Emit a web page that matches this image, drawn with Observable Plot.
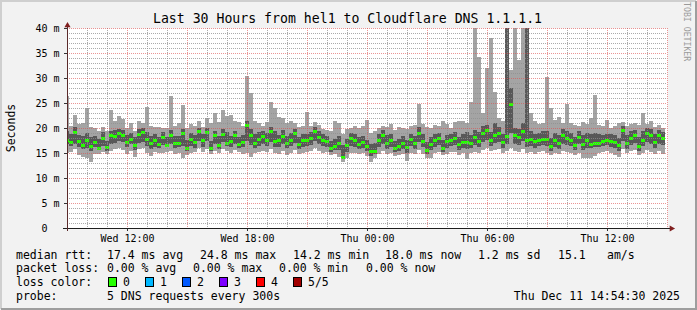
<!DOCTYPE html>
<html><head><meta charset="utf-8">
<script src="https://cdn.jsdelivr.net/npm/d3@7"></script>
<script src="https://cdn.jsdelivr.net/npm/@observablehq/plot@0.6"></script>
<style>
html,body{margin:0;padding:0;background:#f2f2f2;}
svg{display:block}
</style></head><body><div id="chart"></div>
<script>
// ---- data (ms), one column per 12-minute step ----
const minPing = [
15.0,15.3,15.8,14.6,14.2,14.0,13.2,14.8,14.9,15.2,14.8,15.5,15.9,16.0,15.6,14.8,15.4,14.3,15.8,16.0,15.0,14.5,15.2,15.0,15.1,
15.2,15.5,14.8,15.0,14.0,14.6,15.0,15.2,16.0,15.3,15.8,14.8,15.5,15.0,15.8,15.4,15.0,15.6,15.2,14.8,15.0,14.2,15.0,15.3,15.5,
15.2,15.8,15.0,14.8,15.4,14.6,15.1,15.6,14.8,15.0,15.2,15.4,16.0,15.5,15.0,15.2,14.6,14.8,14.2,13.3,14.0,15.0,15.0,14.8,15.0,
14.5,13.3,14.0,14.8,15.4,14.8,15.0,14.4,14.6,14.9,13.5,15.0,14.8,15.6,14.8,14.0,14.0,15.0,15.3,14.6,14.8,15.2,15.2,14.6,15.0,
13.8,15.0,15.2,15.0,15.6,16.0,15.4,15.6,15.8,15.0,15.4,16.0,15.4,15.2,15.8,15.0,15.2,14.9,15.2,15.4,15.0,14.6,15.0,14.8,15.4,
15.2,15.0,14.6,15.0,14.0,14.0,14.0,14.5,15.0,15.2,15.4,15.0,14.6,14.2,15.8,15.0,15.4,15.6,14.6,15.0,15.6,15.2,14.8,15.4,14.8];
const ping2 = [
16.8,16.4,16.9,16.2,15.8,16.0,15.5,16.3,15.6,16.5,15.5,16.8,17.0,17.5,17.2,16.2,16.8,15.7,17.1,17.3,16.5,15.8,16.2,16.0,16.6,
16.3,16.8,16.0,16.2,16.5,15.4,16.5,16.1,17.4,16.3,17.5,15.5,16.8,15.9,17.2,16.4,16.2,16.8,16.0,16.2,17.5,16.6,16.0,16.5,16.8,
16.4,17.2,16.2,16.2,16.8,16.0,16.5,17.0,15.8,16.3,16.4,16.6,17.4,16.8,16.4,16.3,15.3,15.6,15.6,13.9,15.2,16.4,16.2,15.8,16.0,
15.4,14.4,14.8,16.2,16.8,15.9,16.3,15.2,15.4,15.9,15.0,16.4,15.9,17.2,16.2,14.8,15.6,16.3,16.6,15.2,16.0,16.4,16.6,15.6,16.0,
15.8,16.0,16.6,16.2,17.2,17.6,16.4,17.0,17.3,16.0,16.8,19.0,16.8,16.6,17.4,16.2,16.4,16.0,16.4,16.6,16.4,15.4,16.3,15.9,16.9,
16.6,16.4,15.6,16.8,15.6,16.0,16.0,16.2,16.3,16.4,16.6,16.3,16.0,15.4,17.4,15.8,16.6,17.0,15.4,16.4,17.2,16.8,16.0,16.8,16.6];
const median = [
17.6,17.2,19.2,17.4,16.6,17.5,16.4,17.2,16.0,18.0,16.1,18.6,18.3,18.9,18.5,17.2,17.8,16.6,18.8,19.1,17.8,16.9,17.5,16.7,18.2,
16.6,18.6,16.9,17.0,18.9,16.0,17.8,17.2,19.3,17.6,19.2,16.0,18.6,16.5,18.8,17.0,17.3,18.6,16.8,17.2,20.6,18.5,17.0,17.8,18.3,
17.6,19.3,17.3,17.5,18.3,17.0,17.6,18.9,16.8,17.5,17.6,17.9,19.4,18.2,17.5,17.4,16.0,16.4,17.0,14.2,16.6,18.0,17.6,16.8,17.2,
16.4,15.3,15.4,17.6,18.6,17.0,17.6,16.0,16.4,17.0,16.2,17.7,17.0,19.0,17.4,15.6,16.8,17.5,17.9,16.0,17.3,17.6,18.0,16.7,17.2,
17.2,17.0,18.2,17.3,19.0,19.6,17.6,18.6,19.0,17.2,18.4,24.8,18.5,18.2,19.3,17.5,17.8,17.3,17.5,17.8,17.8,16.3,17.6,17.0,18.6,
18.0,17.6,16.6,18.2,16.8,17.5,16.8,17.0,17.0,17.3,17.6,17.3,17.2,16.6,19.6,17.0,18.0,18.5,16.4,17.6,19.0,18.6,17.2,18.5,18.0];
const ping4 = [
19.5,18.8,20.2,18.6,18.4,19.0,18.2,18.5,17.8,19.2,17.5,19.5,19.6,19.8,19.6,18.7,19.1,18.2,19.8,20.0,19.3,18.5,18.8,18.3,19.2,
18.2,19.6,18.4,18.5,19.8,17.6,19.0,18.6,20.0,18.8,20.1,17.5,19.4,18.5,19.8,19.2,18.5,19.5,18.3,18.7,21.5,19.8,18.8,19.2,19.4,
19.0,20.2,19.5,18.6,19.6,18.5,19.0,19.8,18.2,18.8,18.9,19.2,20.2,19.4,18.8,18.5,17.4,17.8,18.4,16.6,17.8,19.0,18.8,18.2,18.5,
17.6,16.8,17.0,18.8,19.6,18.6,18.8,17.5,17.8,18.4,17.6,18.9,18.4,20.2,18.8,17.2,18.2,18.9,19.0,17.6,18.6,18.9,19.3,18.2,18.8,
19.2,18.6,19.6,19.2,20.4,20.6,19.2,21.0,20.2,18.8,40.0,28.0,20.0,19.8,21.0,40.0,19.5,18.8,19.0,19.4,19.5,18.0,19.0,18.6,19.8,
19.4,19.0,18.2,19.4,18.6,19.0,18.8,19.0,18.8,18.6,18.9,18.8,18.6,18.0,20.4,18.6,19.4,19.6,18.2,19.5,20.0,19.8,18.8,19.6,19.2];
const maxPing = [
26.4,20.5,22.6,20.8,21.0,24.0,20.3,20.0,19.5,20.2,19.4,23.6,21.5,22.5,21.8,20.0,21.0,19.5,21.5,21.0,24.2,20.5,20.2,20.2,20.0,
20.0,26.4,20.5,21.0,24.6,20.0,20.8,20.5,21.4,20.3,22.0,21.0,23.0,21.2,23.6,22.4,22.6,21.5,21.3,20.5,30.4,27.0,21.5,21.0,20.5,
21.3,25.2,24.0,22.2,22.0,21.0,21.4,21.0,20.2,20.5,23.2,20.5,21.2,20.6,19.9,19.6,19.4,21.4,21.0,18.8,19.8,20.0,20.5,20.0,20.4,
21.7,19.0,19.4,20.0,20.4,20.2,20.8,19.6,20.3,20.0,19.8,20.4,20.6,24.8,20.8,20.2,20.0,20.6,20.4,21.4,20.8,20.0,21.3,21.5,21.4,
21.0,25.2,40.0,34.3,23.0,32.0,38.0,27.3,22.0,21.5,40.0,31.6,40.0,33.6,40.0,40.0,23.0,21.5,20.8,21.0,30.3,24.0,21.6,22.3,21.0,
24.9,21.0,20.6,20.4,21.2,20.8,22.0,26.6,20.6,20.4,21.7,20.0,20.5,21.0,21.3,20.4,20.8,21.0,20.6,23.0,20.8,21.4,20.2,20.6,20.0];

// ---- axes / ticks ----
const yTicks = [0,5,10,15,20,25,30,35,40];
const yTickLabels = ["0\u00a0\u00a0","5 m","10 m","15 m","20 m","25 m","30 m","35 m","40 m"];
const yMinor = d3.range(1,40).filter(v => v % 5 !== 0);
const xLabelTimes = [[10,12],[10,18],[11,0],[11,6],[11,12]];
const xLabels = ["Wed 12:00","Wed 18:00","Thu 00:00","Thu 06:00","Thu 12:00"];
const title = "Last 30 Hours from hel1 to Cloudflare DNS 1.1.1.1";
const yLabel = "Seconds";
const watermark = "RRDTOOL / TOBI OETIKER";
const legendRtt = [["median rtt:",16],["17.4 ms avg",107],["24.8 ms max",200],["14.2 ms min",293],["18.0 ms now",385],["1.2 ms sd",478],["15.1",558],["am/s",607]];
const legendLoss = [["packet loss:",16],["0.00 % avg",107],["0.00 % max",193],["0.00 % min",279],["0.00 % now",366]];
const lossNames = ["0","1","2","3","4","5/5"];
const lossColors = ["#26ff00","#00b8ff","#0059ff","#7e00ff","#ff0000","#a10000"];
const probeText = "5 DNS requests every 300s";
const dateText = "Thu Dec 11 14:54:30 2025";

const T = (d,h,m=0,s=0) => new Date(2025,11,d,h,m,s);
const xStart = T(10,9), xEnd = T(11,15);
const firstStep = T(10,8,54,30), stepMs = 12*60*1000;
const rows = median.map((m,i) => ({
  t0: new Date(+firstStep + i*stepMs), t1: new Date(+firstStep + (i+1)*stepMs),
  p1: minPing[i], p2: ping2[i], med: m, p4: ping4[i], p5: maxPing[i]
}));
const hours = d3.timeHour.range(xStart, new Date(+xEnd + 1));
const xMajor = hours.filter(d => d.getHours() % 3 === 0);
const xMinor = hours.filter(d => d.getHours() % 3 !== 0);
const xLabelDates = xLabelTimes.map(([d,h]) => T(d,h));

const grid = "rgba(143,143,143,0.75)", mgrid = "rgba(222,79,79,0.6)";
const chart = Plot.plot({
  width: 697, height: 310,
  marginLeft: 67, marginRight: 30, marginTop: 28, marginBottom: 82,
  style: {background: "transparent", fontFamily: "DejaVu Sans Mono", fontSize: "10px", color: "#000"},
  x: {type: "time", domain: [xStart, xEnd], axis: null},
  y: {domain: [0, 40], axis: null},
  marks: [
    Plot.frame({fill: "#ffffff", stroke: "none"}),
    Plot.rect(rows, {x1: "t0", x2: "t1", y1: "p1", y2: "p5", fill: "#a4a4a4", clip: true, shapeRendering: "crispEdges"}),
    Plot.rect(rows, {x1: "t0", x2: "t1", y1: "p2", y2: "p4", fill: "#585858", clip: true, shapeRendering: "crispEdges"}),
    Plot.rect(rows, {x1: "t0", x2: "t1", y1: d => d.med - 0.3, y2: d => d.med + 0.3, fill: lossColors[0], clip: true, shapeRendering: "crispEdges"}),
    Plot.ruleY(yMinor, {stroke: grid, strokeDasharray: "1,1"}),
    Plot.ruleX(xMinor, {stroke: grid, strokeDasharray: "1,1"}),
    Plot.ruleY(yTicks.filter(v => v > 0), {stroke: mgrid, strokeDasharray: "1,1"}),
    Plot.ruleX(xMajor, {stroke: mgrid, strokeDasharray: "1,1"}),
    Plot.axisY({ticks: yTicks, tickFormat: d => yTickLabels[yTicks.indexOf(d)], tickSize: 3, tickPadding: 5, fontSize: 10, stroke: "#333"}),
    Plot.axisX({ticks: xLabelDates, tickFormat: d => xLabels[xLabelDates.findIndex(t => +t === +d)], tickSize: 3, tickPadding: 3, fontSize: 10, stroke: "#333"}),
    Plot.ruleY([0], {stroke: "#1f1f1f", insetLeft: -4, insetRight: -3}),
    Plot.ruleX([xStart], {stroke: "#5a2a2a", insetTop: -4, insetBottom: -3}),
    Plot.dot([0], {x: xEnd, y: 0, symbol: "triangle", rotate: 90, r: 2.3, fill: "#801f1f", stroke: "none", dx: 4}),
    Plot.dot([0], {x: xStart, y: 40, symbol: "triangle", r: 2.3, fill: "#801f1f", stroke: "none", dy: -3})
  ]
});
document.getElementById("chart").appendChild(chart);

// ---- texts and frame around the plot ----
const svg = d3.select(chart);
const mono = "DejaVu Sans Mono";
const txt = (x, y, s, size, anchor="start") => svg.append("text")
  .attr("x", x).attr("y", y).attr("font-family", mono).attr("font-size", size)
  .attr("text-anchor", anchor).attr("fill", "#000").style("white-space", "pre").text(s);
txt(347.5, 23, title, 13.2, "middle");
svg.append("text").attr("transform", "translate(15,128) rotate(-90)")
  .attr("font-family", mono).attr("font-size", 11.5).attr("text-anchor", "middle").text(yLabel);
svg.append("text").attr("transform", "translate(684,7) rotate(90)")
  .attr("font-family", mono).attr("font-size", 8.2).attr("fill", "#9a9a9a").text(watermark);
const L = 11.5, rowsY = [258.5, 272.3, 286, 299.7];
legendRtt.forEach(([s,x]) => txt(x, rowsY[0], s, L));
legendLoss.forEach(([s,x]) => txt(x, rowsY[1], s, L));
txt(16, rowsY[2], "loss color:", L);
const boxX = [108,145,182,219,256,293];
lossNames.forEach((n,i) => {
  svg.append("rect").attr("x", boxX[i]+0.5).attr("y", 277.5).attr("width", 8).attr("height", 9)
    .attr("fill", lossColors[i]).attr("stroke", "#000").attr("stroke-width", 1);
  txt(boxX[i] + 15, rowsY[2], n, L);
});
txt(16, rowsY[3], "probe:", L);
txt(107, rowsY[3], probeText, L);
txt(680, rowsY[3], dateText, L, "end");
// 3D border like rrdtool
svg.append("path").attr("d", "M1,309 V1 H696").attr("fill","none").attr("stroke","#cfcfcf").attr("stroke-width",2);
svg.append("path").attr("d", "M1,309 H696 V1").attr("fill","none").attr("stroke","#9e9e9e").attr("stroke-width",2);
</script></body></html>
